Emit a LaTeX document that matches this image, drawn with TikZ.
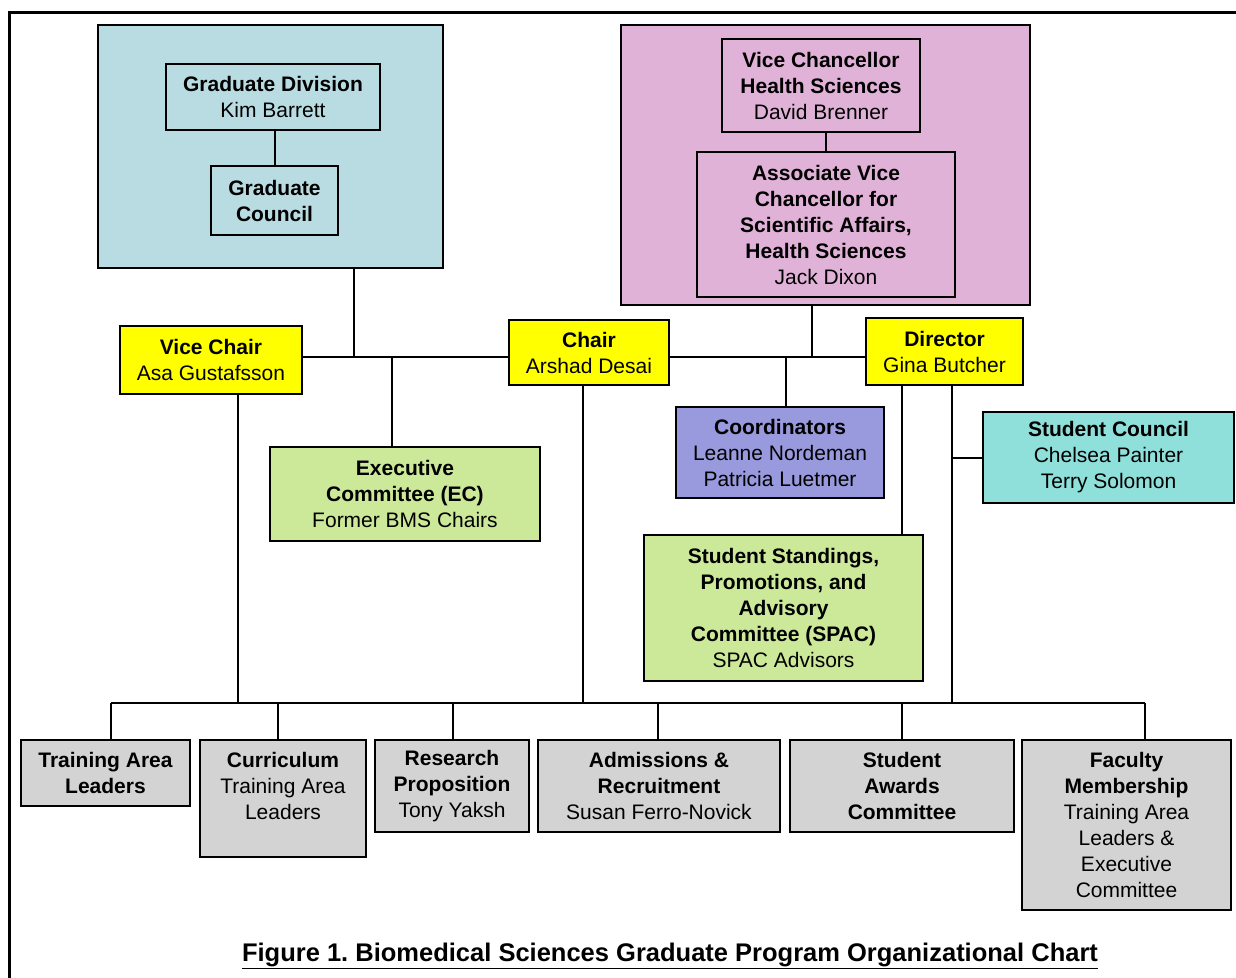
\documentclass[tikz,border=0pt]{standalone}
\usepackage{fontspec}
\setmainfont{Liberation Sans}
\frenchspacing
\definecolor{cblue}{RGB}{185,220,226}
\definecolor{cpink}{RGB}{225,178,216}
\definecolor{cyel}{RGB}{255,255,0}
\definecolor{cgreen}{RGB}{204,232,153}
\definecolor{cpurple}{RGB}{153,153,221}
\definecolor{cteal}{RGB}{143,223,218}
\definecolor{cgray}{RGB}{211,211,211}
\begin{document}
\begin{tikzpicture}[x=1pt,y=-1pt,
  box/.style={draw=black, line width=2.6pt, align=center, inner sep=0pt,
    font=\fontsize{21}{26}\selectfont},
  conn/.style={draw=black, line width=2pt}]
\useasboundingbox (0,0) rectangle (1236,977);
% outer frame
\draw[line width=3pt] (1240,12) -- (9,12) -- (9,981);

% containers
\node[box, fill=cblue, minimum width=345, minimum height=243] (blue) at (270.5,146.5) {};
\node[box, fill=cpink, minimum width=409, minimum height=280] (pink) at (825.5,165) {};

% upper boxes
\node[box, fill=cblue, minimum width=214, minimum height=66] (gd) at (273,97)
  {\textbf{Graduate Division}\\Kim Barrett};
\node[box, fill=cblue, minimum width=127, minimum height=69] (gc) at (274.5,200.5)
  {\textbf{Graduate}\\\textbf{Council}};
\node[box, fill=cpink, minimum width=198, minimum height=93] (vch) at (821,85.5)
  {\textbf{Vice Chancellor}\\\textbf{Health Sciences}\\David Brenner};
\node[box, fill=cpink, minimum width=258, minimum height=145] (avc) at (826,224.5)
  {\textbf{Associate Vice}\\\textbf{Chancellor for}\\\textbf{Scientific Affairs,}\\\textbf{Health Sciences}\\Jack Dixon};

% leadership
\node[box, fill=cyel, minimum width=182, minimum height=68] (vchair) at (211,360)
  {\textbf{Vice Chair}\\Asa Gustafsson};
\node[box, fill=cyel, minimum width=160, minimum height=65] (chair) at (589,352.5)
  {\textbf{Chair}\\Arshad Desai};
\node[box, fill=cyel, minimum width=157, minimum height=67] (dir) at (944.5,351.5)
  {\textbf{Director}\\Gina Butcher};

% middle boxes
\node[box, fill=cgreen, minimum width=270, minimum height=94] (ec) at (405,494)
  {\textbf{Executive}\\\textbf{Committee (EC)}\\Former BMS Chairs};
\node[box, fill=cpurple, minimum width=208, minimum height=91] (coord) at (780,452.5)
  {\textbf{Coordinators}\\Leanne Nordeman\\Patricia Luetmer};
\node[box, fill=cteal, minimum width=251, minimum height=91] (sc) at (1108.5,457.5)
  {\textbf{Student Council}\\Chelsea Painter\\Terry Solomon};
\node[box, fill=cgreen, minimum width=279, minimum height=146] (spac) at (783.5,608)
  {\textbf{Student Standings,}\\\textbf{Promotions, and}\\\textbf{Advisory}\\\textbf{Committee (SPAC)}\\SPAC Advisors};

% bottom boxes
\node[box, fill=cgray, minimum width=169, minimum height=66] (tal) at (105.5,773)
  {\textbf{Training Area}\\\textbf{Leaders}};
\node[box, fill=cgray, minimum width=166, minimum height=117] (cur) at (283,798.5)
  {\textbf{Curriculum}\\Training Area\\Leaders\\\mbox{}};
\node[box, fill=cgray, minimum width=154, minimum height=92] (rp) at (452,786)
  {\textbf{Research}\\\textbf{Proposition}\\Tony Yaksh};
\node[box, fill=cgray, minimum width=242, minimum height=92] (adm) at (659,786)
  {\textbf{Admissions \&}\\\textbf{Recruitment}\\Susan Ferro-Novick};
\node[box, fill=cgray, minimum width=224, minimum height=92] (sa) at (902,786)
  {\textbf{Student}\\\textbf{Awards}\\\textbf{Committee}};
\node[box, fill=cgray, minimum width=209, minimum height=170] (fm) at (1126.5,825)
  {\textbf{Faculty}\\\textbf{Membership}\\Training Area\\Leaders \&\\Executive\\Committee};

% caption
\node[font=\fontsize{25.5}{30}\selectfont\bfseries] (cap) at (670,956)
  {\underline{Figure 1. Biomedical Sciences Graduate Program Organizational Chart}};

% junction coordinates
\coordinate (hl) at (0,357);
\coordinate (jb) at (354,357);
\coordinate (jp) at (812,357);
\coordinate (jec) at (392,357);
\coordinate (jco) at (786,357);
\coordinate (xd1) at (902,0);
\coordinate (xd2) at (952,0);
\coordinate (xvc) at (238,0);
\coordinate (xch) at (583,0);
\coordinate (bus) at (0,703);
\coordinate (bl) at (111,703);
\coordinate (br) at (1145,703);
\coordinate (x1) at (111,0);
\coordinate (x2) at (278,0);
\coordinate (x3) at (453,0);
\coordinate (x4) at (658,0);
\coordinate (x5) at (902,0);
\coordinate (x6) at (1145,0);

% connectors
\draw[conn] (gc.north |- gd.south) -- (gc.north);
\draw[conn] (avc.north |- vch.south) -- (avc.north);
\draw[conn] (jb |- blue.south) -- (jb);
\draw[conn] (jp |- pink.south) -- (jp);
\draw[conn] (vchair.east |- hl) -- (chair.west |- hl);
\draw[conn] (chair.east |- hl) -- (dir.west |- hl);
\draw[conn] (jec) -- (jec |- ec.north);
\draw[conn] (jco) -- (jco |- coord.north);
\draw[conn] (xd1 |- dir.south) -- (xd1 |- spac.north);
\draw[conn] (xd2 |- dir.south) -- (xd2 |- bus);
\draw[conn] (xd2 |- sc.west) -- (sc.west);
\draw[conn] (xvc |- vchair.south) -- (xvc |- bus);
\draw[conn] (xch |- chair.south) -- (xch |- bus);
\draw[conn] (bl) -- (br);
\draw[conn] (x1 |- bus) -- (x1 |- tal.north);
\draw[conn] (x2 |- bus) -- (x2 |- cur.north);
\draw[conn] (x3 |- bus) -- (x3 |- rp.north);
\draw[conn] (x4 |- bus) -- (x4 |- adm.north);
\draw[conn] (x5 |- bus) -- (x5 |- sa.north);
\draw[conn] (x6 |- bus) -- (x6 |- fm.north);
\end{tikzpicture}
\end{document}
